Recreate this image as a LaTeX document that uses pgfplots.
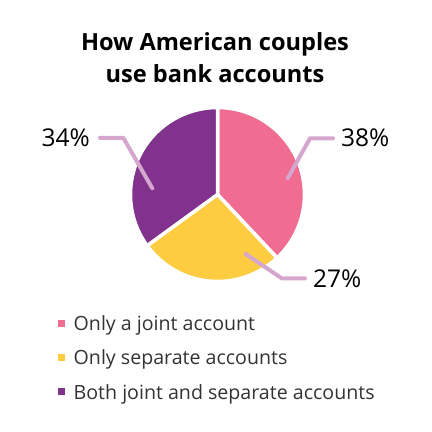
\documentclass[border=0pt]{standalone}
\usepackage{pgfplots}
\pgfplotsset{compat=1.18}
\usepackage{pgfplotstable}
\usepackage{fontspec}
\setmainfont{Open Sans}
\definecolor{cpink}{HTML}{F06C90}
\definecolor{cyellow}{HTML}{FECC40}
\definecolor{cpurple}{HTML}{80328C}
\definecolor{cleader}{HTML}{D5A6CE}
\definecolor{ctext}{HTML}{333333}

\pgfplotstableread{
idx value
0 38
1 27
2 34
}\piedata

\begin{document}
\begin{tikzpicture}
\pgfplotstablegetelem{0}{value}\of\piedata \edef\vA{\pgfplotsretval}%
\pgfplotstablegetelem{1}{value}\of\piedata \edef\vB{\pgfplotsretval}%
\pgfplotstablegetelem{2}{value}\of\piedata \edef\vC{\pgfplotsretval}%
\pgfmathsetmacro\aA{90-3.6*\vA}%
\pgfmathsetmacro\aB{\aA-3.6*\vB}%
\begin{axis}[at={(0,0)},anchor=south west,name=ax,
  width=432pt,height=432pt,scale only axis,
  xmin=0,xmax=432,ymin=0,ymax=432,y dir=reverse,
  hide axis,clip=false]
% wedges
\fill[cpink,draw=white,line width=3.5pt,line join=round]
  (axis cs:217.5,194.5) -- ++(90:87pt) arc[start angle=90,end angle=\aA,radius=87pt] -- cycle;
\fill[cyellow,draw=white,line width=3.5pt,line join=round]
  (axis cs:217.5,194.5) -- ++(\aA:87pt) arc[start angle=\aA,end angle=\aB,radius=87pt] -- cycle;
\fill[cpurple,draw=white,line width=3.5pt,line join=round]
  (axis cs:217.5,194.5) -- ++(\aB:87pt) arc[start angle=\aB,end angle=-270,radius=87pt] -- cycle;
% leaders
\draw[cleader,line width=4pt,line cap=round,line join=round]
  (axis cs:287.7,178.3) -- (axis cs:310,138.3) -- (axis cs:333,138.3);
\draw[cleader,line width=4pt,line cap=round,line join=round]
  (axis cs:152.3,188.3) -- (axis cs:123.3,137.8) -- (axis cs:100,137.8);
\draw[cleader,line width=4pt,line cap=round,line join=round]
  (axis cs:245.7,254) -- (axis cs:281.7,278.3) -- (axis cs:305,278.3);
% labels
\node[anchor=base west,inner sep=0pt,font=\fontsize{24.5}{28}\selectfont] at (axis cs:341,146.7) {38\%};
\node[anchor=base east,inner sep=0pt,font=\fontsize{24.5}{28}\selectfont] at (axis cs:90,146.7) {34\%};
\node[anchor=base west,inner sep=0pt,font=\fontsize{24.5}{28}\selectfont] at (axis cs:313,287.5) {27\%};
% title
\node[anchor=base,inner sep=0pt,font=\bfseries\fontsize{23.6}{30}\selectfont] at (axis cs:215,50.7) {How American couples};
\node[anchor=base,inner sep=0pt,font=\bfseries\fontsize{23.6}{30}\selectfont] at (axis cs:215,82.7) {use bank accounts};
% legend
\fill[cpink] (axis cs:58,319.5) rectangle (axis cs:65,326.5);
\fill[cyellow] (axis cs:58,354) rectangle (axis cs:65,361);
\fill[cpurple] (axis cs:58,388) rectangle (axis cs:65,395);
\node[anchor=base west,inner sep=0pt,text=ctext,font=\fontsize{19.6}{24}\selectfont] at (axis cs:73.5,330) {Only a joint account};
\node[anchor=base west,inner sep=0pt,text=ctext,font=\fontsize{19.6}{24}\selectfont] at (axis cs:73.5,364.3) {Only separate accounts};
\node[anchor=base west,inner sep=0pt,text=ctext,font=\fontsize{19.6}{24}\selectfont] at (axis cs:73.5,399) {Both joint and separate accounts};
\end{axis}
\pgfresetboundingbox
\useasboundingbox (ax.south west) rectangle (ax.north east);
\end{tikzpicture}
\end{document}
